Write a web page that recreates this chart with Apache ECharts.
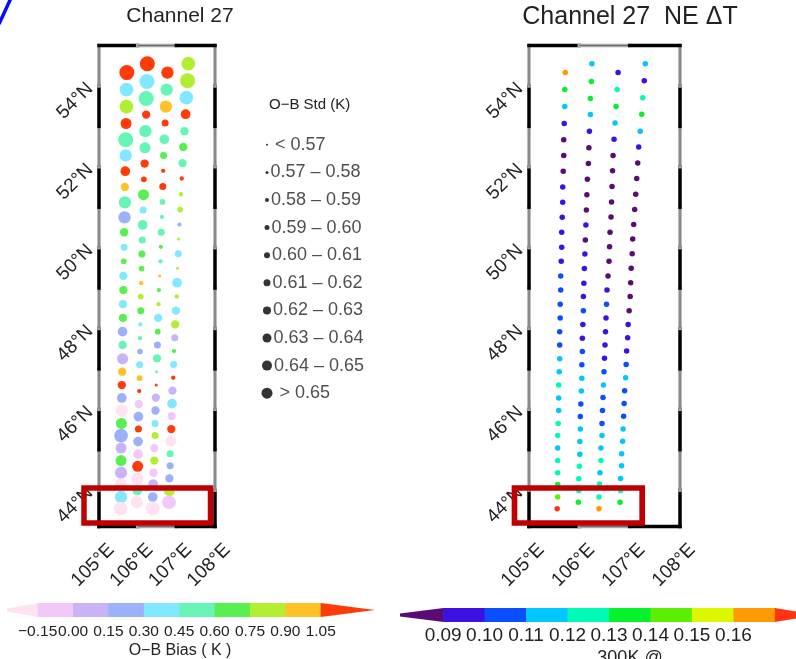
<!DOCTYPE html>
<html><head><meta charset="utf-8">
<script src="https://cdn.jsdelivr.net/npm/echarts@6/dist/echarts.min.js"></script>
<style>html,body{margin:0;padding:0;background:#fff}#c{width:796px;height:659px}</style>
</head><body><div id="c"></div>
<script>
// ---------- data ----------
const col1Lon = [105.72,105.71,105.71,105.70,105.69,105.69,105.68,105.67,105.67,105.66,105.65,105.65,105.64,105.63,105.63,105.62,105.62,105.61,105.61,105.61,105.60,105.59,105.59,105.59,105.58,105.57,105.57,105.57,105.57,105.57,105.57,105.56];
const col1Lat = [54.33,53.91,53.49,53.07,52.67,52.28,51.89,51.50,51.12,50.75,50.38,50.01,49.66,49.30,48.95,48.60,48.26,47.92,47.59,47.25,46.93,46.60,46.28,45.97,45.65,45.35,45.04,44.73,44.43,44.14,43.83,43.54];
const col2Lon = [106.25,106.24,106.22,106.22,106.20,106.19,106.18,106.16,106.15,106.14,106.13,106.12,106.11,106.10,106.09,106.08,106.08,106.07,106.06,106.06,106.05,106.05,106.04,106.03,106.02,106.02,106.01,106.01,106.00,105.99,105.99,105.98];
const col2Lat = [54.55,54.11,53.69,53.29,52.88,52.47,52.08,51.69,51.31,50.93,50.56,50.19,49.84,49.48,49.12,48.79,48.44,48.10,47.76,47.43,47.10,46.77,46.45,46.13,45.82,45.51,45.20,44.89,44.59,44.28,43.99,43.70];
const col3Lon = [106.77,106.75,106.73,106.71,106.69,106.67,106.66,106.65,106.64,106.63,106.61,106.60,106.59,106.57,106.55,106.54,106.53,106.52,106.51,106.50,106.49,106.48,106.47,106.46,106.45,106.45,106.43,106.43,106.41,106.40,106.39,106.39];
const col3Lat = [54.33,53.91,53.49,53.08,52.68,52.28,51.90,51.51,51.13,50.76,50.38,50.02,49.66,49.30,48.95,48.60,48.26,47.92,47.59,47.26,46.93,46.60,46.29,45.97,45.65,45.35,45.04,44.73,44.43,44.15,43.83,43.54];
const col4Lon = [107.31,107.29,107.26,107.24,107.21,107.18,107.16,107.14,107.12,107.10,107.08,107.06,107.05,107.03,107.02,107.01,106.99,106.97,106.96,106.94,106.93,106.92,106.90,106.89,106.88,106.87,106.86,106.84,106.84,106.82,106.82,106.81];
const col4Lat = [54.55,54.13,53.71,53.30,52.88,52.49,52.09,51.71,51.32,50.94,50.57,50.21,49.85,49.49,49.13,48.79,48.44,48.10,47.77,47.44,47.11,46.78,46.46,46.14,45.83,45.51,45.21,44.90,44.60,44.29,43.99,43.70];

// O-B bias (K)
const col1Bias = [1.15,0.37,0.82,1.12,0.52,0.38,1.10,0.97,0.53,0.22,0.67,0.36,0.66,0.38,0.68,0.37,0.66,0.23,0.52,0.07,0.96,1.12,0.21,-0.20,0.68,0.22,0.08,0.67,0.06,-0.19,0.37,-0.21];
const col2Bias = [1.15,0.37,0.52,1.12,0.53,0.51,1.10,1.08,0.67,0.38,0.52,0.54,0.66,0.68,0.96,0.82,0.67,0.36,0.52,0.22,0.38,0.98,1.10,-0.07,0.21,1.12,0.23,-0.06,1.14,-0.20,0.52,-0.21];
const col3Bias = [1.13,0.52,0.97,1.10,0.53,0.67,1.09,1.11,0.51,0.53,0.52,0.66,0.52,0.96,0.68,0.82,0.37,0.67,0.22,0.52,0.53,1.10,0.07,0.22,0.37,0.81,-0.07,0.83,-0.06,0.07,0.22,-0.20];
const col4Bias = [0.82,0.83,0.37,1.12,0.52,0.67,0.53,1.10,0.81,0.82,0.22,0.83,0.38,0.82,0.37,0.81,0.38,0.82,0.07,0.67,0.37,1.10,0.08,0.36,-0.07,1.12,-0.20,0.52,0.22,0.23,0.82,-0.06];

// O-B std (K)
const col1Std = [0.655,0.645,0.645,0.625,0.655,0.635,0.615,0.605,0.635,0.635,0.605,0.595,0.585,0.605,0.605,0.605,0.605,0.615,0.605,0.625,0.605,0.605,0.615,0.635,0.625,0.645,0.625,0.625,0.635,0.635,0.635,0.645];
const col2Std = [0.655,0.655,0.655,0.605,0.635,0.625,0.605,0.585,0.625,0.595,0.615,0.595,0.595,0.585,0.575,0.585,0.595,0.575,0.575,0.585,0.595,0.585,0.575,0.605,0.615,0.595,0.615,0.615,0.625,0.635,0.615,0.635];
const col3Std = [0.635,0.635,0.635,0.595,0.615,0.595,0.575,0.595,0.585,0.575,0.595,0.575,0.575,0.565,0.575,0.575,0.605,0.585,0.595,0.605,0.565,0.565,0.605,0.605,0.595,0.595,0.605,0.605,0.605,0.615,0.615,0.645];
const col4Std = [0.645,0.655,0.645,0.615,0.605,0.605,0.605,0.575,0.575,0.585,0.575,0.565,0.595,0.565,0.615,0.575,0.605,0.605,0.595,0.575,0.595,0.575,0.605,0.615,0.605,0.605,0.625,0.595,0.595,0.605,0.625,0.645];

// NE dT at 300K
const col1Nedt = [0.165,0.135,0.115,0.095,0.085,0.085,0.085,0.095,0.095,0.095,0.095,0.095,0.095,0.105,0.105,0.105,0.105,0.105,0.105,0.115,0.115,0.125,0.115,0.115,0.125,0.125,0.115,0.125,0.125,0.135,0.145,0.175];
const col2Nedt = [0.115,0.135,0.135,0.115,0.095,0.085,0.085,0.085,0.085,0.085,0.095,0.085,0.095,0.095,0.095,0.095,0.105,0.095,0.095,0.105,0.105,0.115,0.115,0.105,0.105,0.115,0.115,0.115,0.125,0.125,0.125,0.135];
const col3Nedt = [0.095,0.125,0.135,0.115,0.095,0.085,0.085,0.085,0.085,0.085,0.085,0.085,0.085,0.085,0.095,0.105,0.095,0.095,0.095,0.095,0.105,0.115,0.105,0.105,0.105,0.115,0.115,0.125,0.115,0.125,0.125,0.165];
const col4Nedt = [0.115,0.095,0.125,0.135,0.115,0.095,0.085,0.085,0.085,0.085,0.085,0.085,0.085,0.085,0.085,0.085,0.085,0.095,0.095,0.095,0.105,0.115,0.105,0.105,0.105,0.115,0.115,0.115,0.115,0.115,0.125,0.135];

// scales / tick labels
const lonTicks = [105, 106, 107, 108];
const latTicks = [44, 46, 48, 50, 52, 54];
const biasEdges = [-0.15, 0.00, 0.15, 0.30, 0.45, 0.60, 0.75, 0.90, 1.05];
const biasColors = ['#fde3f1','#f2c8f8','#c8b3f7','#9cb1f9','#82e8ff','#67f4b7','#59ef50','#b2ef32','#ffc226','#ff3b0a'];
const nedtEdges = [0.09, 0.10, 0.11, 0.12, 0.13, 0.14, 0.15, 0.16, 0.17];
const nedtColors = ['#5a0b74','#3c11e2','#0a4eff','#00c8ff','#00fbb6','#05f22c','#5cf000','#dcf700','#ff9a00','#ff3412'];
const stdEdges = [0.57, 0.58, 0.59, 0.60, 0.61, 0.62, 0.63, 0.64, 0.65];
const stdLabels = [' < 0.57','0.57 – 0.58','0.58 – 0.59','0.59 – 0.60','0.60 – 0.61','0.61 – 0.62','0.62 – 0.63','0.63 – 0.64','0.64 – 0.65',' > 0.65'];

// ---------- helpers ----------
const plotSizes = [3, 4.3, 5.7, 7, 8.3, 9.7, 11, 12.3, 13.7, 15];
const legendSizes = [2, 3, 4, 5, 6, 7, 8, 9, 10, 11];
function stdClass(v) { let c = 0; stdEdges.forEach(e => { if (v >= e) c++; }); return c; }
function zip(lon, lat, a, b) { return lon.map((x, i) => b ? [x, lat[i], a[i], b[i]] : [x, lat[i], a[i]]); }
function pieces(edges, colors) {
  const p = [{ lt: edges[0], color: colors[0] }];
  for (let i = 1; i < edges.length; i++) p.push({ gte: edges[i - 1], lt: edges[i], color: colors[i] });
  p.push({ gte: edges[edges.length - 1], color: colors[edges.length] });
  return p;
}
const leftData = [].concat(zip(col1Lon, col1Lat, col1Bias, col1Std), zip(col2Lon, col2Lat, col2Bias, col2Std),
  zip(col3Lon, col3Lat, col3Bias, col3Std), zip(col4Lon, col4Lat, col4Bias, col4Std));
const rightData = [].concat(zip(col1Lon, col1Lat, col1Nedt), zip(col2Lon, col2Lat, col2Nedt),
  zip(col3Lon, col3Lat, col3Nedt), zip(col4Lon, col4Lat, col4Nedt));

const LON0 = 105, LON1 = 108, LAT0 = 43.1, LAT1 = 55;
function frameSegs() {
  const segs = [];
  const latE = [LAT0]; for (let d = Math.ceil(LAT0); d < LAT1; d++) latE.push(d); latE.push(LAT1);
  for (let i = 0; i < latE.length - 1; i++) {
    const blk = Math.floor(latE[i]) % 2 === 1 ? 1 : 0;
    segs.push([LON0, latE[i], LON0, latE[i + 1], blk]);
    segs.push([LON1, latE[i], LON1, latE[i + 1], blk]);
  }
  for (let d = LON0; d < LON1; d++) {
    const blk = d % 2 === 1 ? 1 : 0;
    segs.push([d, LAT0, d + 1, LAT0, blk]);
    segs.push([d, LAT1, d + 1, LAT1, blk]);
  }
  return segs;
}
function frameRender(params, api) {
  const a = api.coord([api.value(0), api.value(1)]);
  const b = api.coord([api.value(2), api.value(3)]);
  const blk = api.value(4) === 1;
  return { type: 'group', children: [
    { type: 'line', shape: { x1: a[0], y1: a[1], x2: b[0], y2: b[1] }, style: { stroke: blk ? '#000' : '#a9a9a9', lineWidth: 3.5, lineCap: 'square' } },
    { type: 'line', shape: { x1: a[0], y1: a[1], x2: b[0], y2: b[1] }, style: { stroke: blk ? '#000' : '#6a6a6a', lineWidth: 1 } }
  ]};
}
function cbRender(colors) {
  return function (params, api) {
    const lo = api.value(0), hi = api.value(1), ci = api.value(2), kind = api.value(3);
    const a = api.coord([lo, 1]), b = api.coord([hi, 0]);
    const x0 = a[0], y0 = a[1], x1 = b[0], y1 = b[1], ym = (y0 + y1) / 2;
    if (kind === 0) return { type: 'rect', shape: { x: x0, y: y0, width: x1 - x0 + 0.6, height: y1 - y0 }, style: { fill: colors[ci] } };
    const pts = kind < 0 ? [[x0, ym - 1.5], [x1 + 0.6, y0], [x1 + 0.6, y1], [x0, ym + 1.5]] : [[x0, y0], [x1, ym], [x0, y1]];
    return { type: 'polygon', shape: { points: pts }, style: { fill: colors[ci] } };
  };
}
const cb1Items = [[-0.28, biasEdges[0], 0, -1]];
for (let i = 1; i < biasEdges.length; i++) cb1Items.push([biasEdges[i - 1], biasEdges[i], i, 0]);
cb1Items.push([biasEdges[biasEdges.length - 1], 1.28, 9, 1]);
const cb2Items = [[0.0796, nedtEdges[0], 0, -1]];
for (let i = 1; i < nedtEdges.length; i++) cb2Items.push([nedtEdges[i - 1], nedtEdges[i], i, 0]);
cb2Items.push([0.17, 0.18, 9, 1]);

const FONT = '"Liberation Sans", Arial, Helvetica, sans-serif';
const TXT = '#222';
const fmtBias = v => (v < -1e-9 ? '\u2212' : '') + Math.abs(v).toFixed(2);

function panelX(gi) {
  return { gridIndex: gi, type: 'value', min: LON0, max: LON1, interval: 1,
    axisLine: { show: false }, axisTick: { show: false }, splitLine: { show: false },
    axisLabel: { rotate: 45, margin: 8, verticalAlign: 'top', padding: [8, 0, 0, 0], hideOverlap: false,
      fontSize: 19, color: TXT, fontFamily: FONT, formatter: v => v + '°E', showMinLabel: true, showMaxLabel: true } };
}
function panelY(gi) {
  return { gridIndex: gi, type: 'value', min: LAT0, max: LAT1,
    axisLine: { show: false }, axisTick: { show: false }, splitLine: { show: false },
    axisLabel: { rotate: 45, margin: 9, hideOverlap: false, fontSize: 19, color: TXT, fontFamily: FONT, customValues: latTicks, formatter: v => v + '°N' } };
}
const hidden = (gi, extra) => Object.assign({ gridIndex: gi, type: 'value', show: false, min: 0, max: 1 }, extra || {});

const chart = echarts.init(document.getElementById('c'), null, { renderer: 'canvas', width: 796, height: 659 });
chart.setOption({
  animation: false,
  backgroundColor: '#fff',
  textStyle: { fontFamily: FONT },
  title: [
    { text: 'Channel 27', left: 180, top: 6, textAlign: 'center', padding: 0, textStyle: { fontSize: 21, fontWeight: 'normal', color: TXT, fontFamily: FONT } },
    { text: 'Channel 27  NE \u0394T', left: 630, top: 5, textAlign: 'center', padding: 0, textStyle: { fontSize: 25, fontWeight: 'normal', color: TXT, fontFamily: FONT } },
    { text: 'O\u2212B Std (K)', left: 269, top: 97, padding: 0, textStyle: { fontSize: 15, fontWeight: 'normal', color: TXT, fontFamily: FONT } },
    { text: 'O\u2212B Bias ( K )', left: 180, top: 643, textAlign: 'center', padding: 0, textStyle: { fontSize: 16, fontWeight: 'normal', color: TXT, fontFamily: FONT } },
    { text: '300K @', left: 630, top: 649, textAlign: 'center', padding: 0, textStyle: { fontSize: 18, fontWeight: 'normal', color: TXT, fontFamily: FONT } }
  ],
  grid: [
    { left: 99, top: 45.5, width: 116, height: 481 },
    { left: 529, top: 45.5, width: 151, height: 481 },
    { left: 7, top: 603, width: 368, height: 14 },
    { left: 400, top: 608, width: 442, height: 14 },
    { left: 262, top: 131, width: 10, height: 276 }
  ],
  xAxis: [
    panelX(0), panelX(1),
    { gridIndex: 2, type: 'value', min: -0.28, max: 1.28, axisLine: { show: false }, axisTick: { show: false }, splitLine: { show: false },
      axisLabel: { customValues: biasEdges, formatter: fmtBias, hideOverlap: false, showMinLabel: true, showMaxLabel: true,
        margin: 7, fontSize: 15.5, color: TXT, fontFamily: FONT } },
    { gridIndex: 3, type: 'value', min: 0.0796, max: 0.1751, axisLine: { show: false }, axisTick: { show: false }, splitLine: { show: false },
      axisLabel: { customValues: nedtEdges.slice(0, 8), formatter: v => v.toFixed(2), hideOverlap: false,
        margin: 4, fontSize: 19, color: TXT, fontFamily: FONT } },
    hidden(4)
  ],
  yAxis: [
    panelY(0), panelY(1), hidden(2), hidden(3),
    { gridIndex: 4, type: 'category', data: stdLabels, inverse: true, show: false }
  ],
  visualMap: [
    { type: 'piecewise', show: false, seriesIndex: 0, dimension: 2, pieces: pieces(biasEdges, biasColors) },
    { type: 'piecewise', show: false, seriesIndex: 2, dimension: 2, pieces: pieces(nedtEdges, nedtColors) }
  ],
  series: [
    { type: 'scatter', xAxisIndex: 0, yAxisIndex: 0, data: leftData, symbol: 'circle',
      symbolSize: v => plotSizes[stdClass(v[3])], itemStyle: { opacity: 1 }, silent: true, z: 2 },
    { type: 'custom', xAxisIndex: 0, yAxisIndex: 0, data: frameSegs(), renderItem: frameRender, clip: false, silent: true, z: 5 },
    { type: 'scatter', xAxisIndex: 1, yAxisIndex: 1, data: rightData, symbol: 'circle', symbolSize: 5.5,
      itemStyle: { opacity: 1 }, silent: true, z: 2 },
    { type: 'custom', xAxisIndex: 1, yAxisIndex: 1, data: frameSegs(), renderItem: frameRender, clip: false, silent: true, z: 5 },
    { type: 'custom', xAxisIndex: 2, yAxisIndex: 2, data: cb1Items, renderItem: cbRender(biasColors), clip: false, silent: true },
    { type: 'custom', xAxisIndex: 3, yAxisIndex: 3, data: cb2Items, renderItem: cbRender(nedtColors), clip: false, silent: true },
    { type: 'scatter', xAxisIndex: 4, yAxisIndex: 4, silent: true, symbol: 'circle',
      data: stdLabels.map((s, i) => ({ value: [0.5, i], symbolSize: legendSizes[i] })),
      itemStyle: { color: '#000' },
      label: { show: true, position: 'right', distance: 2, formatter: p => stdLabels[p.dataIndex], fontSize: 18, color: TXT, fontFamily: FONT } }
  ],
  graphic: [
    { type: 'line', z: 100, shape: { x1: -1, y1: 24, x2: 11, y2: -2 }, style: { stroke: '#0a0aff', lineWidth: 3.5 } },
    { type: 'rect', z: 100, shape: { x: 84, y: 488, width: 126.5, height: 35 }, style: { fill: null, stroke: '#bf0000', lineWidth: 5.5 } },
    { type: 'rect', z: 100, shape: { x: 514.5, y: 488, width: 127.7, height: 35 }, style: { fill: null, stroke: '#bf0000', lineWidth: 5.7 } }
  ]
});
</script>
</body></html>
